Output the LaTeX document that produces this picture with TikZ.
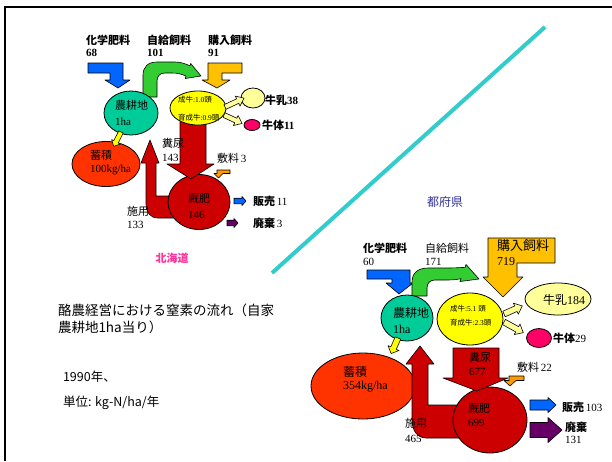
\documentclass[tikz,border=0pt]{standalone}
\usepackage{fontspec}
\setmainfont{Liberation Serif}
\newfontfamily\jp{Noto Sans CJK JP}
\usetikzlibrary{shapes.geometric}
\definecolor{cteal}{HTML}{00CC99}
\definecolor{cyel}{HTML}{FFFF00}
\definecolor{clyel}{HTML}{FFFF99}
\definecolor{cmag}{HTML}{FF0066}
\definecolor{corred}{HTML}{FF3300}
\definecolor{cdred}{HTML}{CC0000}
\definecolor{cblue}{HTML}{0066FF}
\definecolor{cgreen}{HTML}{33CC33}
\definecolor{corange}{HTML}{FFC000}
\definecolor{corsm}{HTML}{FF9900}
\definecolor{cpurp}{HTML}{660066}
\definecolor{cpink}{HTML}{FF3399}
\definecolor{cnavy}{HTML}{333399}
\definecolor{cline}{HTML}{33CCCC}
% block arrow: #1 start, #2 angle, #3 shaft half width, #4 head half width, #5 length, #6 head length, #7 style
\newcommand\blockarr[7]{%
  \begin{scope}[shift={(#1)},rotate=#2]
    \draw[#7] (0,-#3) -- ({#5-#6},-#3) -- ({#5-#6},-#4) -- (#5,0) -- ({#5-#6},#4) -- ({#5-#6},#3) -- (0,#3) -- cycle;
  \end{scope}}
\begin{document}
\begin{tikzpicture}[x=1pt,y=-1pt,
  every node/.style={inner sep=0pt,outer sep=0pt},
  t/.style={anchor=west,font=\fontsize{11}{13}\selectfont},
  tl/.style={anchor=west,font=\fontsize{12}{14}\selectfont},
  ts/.style={anchor=west,font=\fontsize{7.5}{9}\selectfont},
  tb/.style={anchor=west,font=\fontsize{13.5}{16}\selectfont\jp},
  bl/.style={draw=black,line width=0.6pt,line join=round},
  ell/.style={ellipse,draw=black,line width=0.8pt}]
\useasboundingbox (0,0) rectangle (612,461);
\fill[white] (0,0) rectangle (612,461);
\draw[line width=2pt] (5,461) -- (5,7) -- (612,7);
\draw[line width=4pt,cline] (272,273) -- (545,27);

% ===== Hokkaido =====
\node[ell,fill=corred,minimum width=68pt,minimum height=45pt] (sh) at (106,164) {};
\draw[bl,fill=cdred] (150,140) -- (159,163) -- (156,163) -- (156,196) -- (175,196) -- (175,218) -- (158,218) .. controls (150,218) and (146,212) .. (146,204) -- (146,163) -- (141,163) -- cycle;
\node[ell,fill=cdred,minimum width=62pt,minimum height=55pt] (kh) at (199,202) {};
\draw[bl,fill=cdred] (180,120) -- (206,120) -- (206,164) -- (214,164) -- (191,179) -- (167,164) -- (180,164) -- cycle;
\draw[bl,fill=cblue] (88,63) -- (123,63) -- (123,80) -- (130,80) -- (118,88) -- (105,80) -- (110,80) -- (110,73) -- (88,73) -- cycle;
\draw[bl,fill=corange] (242,63) -- (208,63) -- (208,80) -- (202,80) -- (217,88) -- (230,80) -- (222,80) -- (222,73) -- (242,73) -- cycle;
\draw[bl,fill=cgreen] (143,97) -- (143,75) .. controls (143,67) and (148,62) .. (157,62) -- (175,62) .. controls (181,62) and (186,64) .. (189.9,65.8) -- (190.7,63.5) -- (201,76) -- (185.3,78.5) -- (186.1,76.2) .. controls (182,74) and (177,73) .. (172,73) -- (165,73) .. controls (160,73) and (157,76) .. (157,81) -- (157,97) -- cycle;
\node[ell,fill=cteal,minimum width=54pt,minimum height=44pt] (nh) at (131,113) {};
\node[ell,fill=cyel,minimum width=56pt,minimum height=34pt] (ch) at (198,108) {};
\node[ell,fill=clyel,minimum width=24pt,minimum height=20pt] (mh) at (253,98) {};
\node[ell,fill=cmag,minimum width=16pt,minimum height=11pt] (bh) at (252,125) {};
\blockarr{225,107}{25}{2.5}{5.5}{21}{7}{bl,fill=clyel}
\blockarr{224,115}{-25}{2.5}{5.5}{20}{7}{bl,fill=clyel}
\blockarr{121,132}{243}{2.5}{5}{16}{5}{bl,fill=cyel}
\blockarr{234,201}{0}{2.8}{4.5}{12}{4}{bl,fill=cblue}
\blockarr{227,223}{0}{2.8}{4.5}{11}{4}{bl,fill=cpurp}
\draw[bl,fill=corsm] (217,170) -- (230,170) -- (230,173.5) -- (223,173.5) -- (218.5,178) -- (214,173.5) -- (217,173.5) -- cycle;

\node[t] (h1a) at (86,40) {\jp\bfseries 化学肥料};
\node[t] (h1b) at (86,53) {\bfseries 68};
\node[t] (h2a) at (147,40) {\jp\bfseries 自給飼料};
\node[t] (h2b) at (147,53) {\bfseries 101};
\node[t] (h3a) at (208,40) {\jp\bfseries 購入飼料};
\node[t] (h3b) at (208,53) {\bfseries 91};
\node[t] (hn1) at (115,105) {\jp 農耕地};
\node[t] (hn2) at (115,122) {1ha};
\node[ts] (hc1) at (178,100) {\jp 成牛\rmfamily:1.0\jp 頭};
\node[ts] (hc2) at (178,118) {\jp 育成牛\rmfamily:0.9\jp 頭};
\node[t] (hm) at (265,100) {{\jp\bfseries 牛乳}\bfseries 38};
\node[t] (hb) at (262,125) {{\jp\bfseries 牛体}\bfseries 11};
\node[t] (hs1) at (90,155) {\jp 蓄積};
\node[t] (hs2) at (90,170) {100kg/ha};
\node[t] (hk1) at (188,198) {\jp 厩肥};
\node[t] (hk2) at (188,215) {146};
\node[t] (hf1) at (162,143) {\jp 糞尿};
\node[t] (hf2) at (162,158) {143};
\node[t] (hsk) at (217,158) {{\jp 敷料}\,3};
\node[t] (hy1) at (127,211) {\jp 施用};
\node[t] (hy2) at (127,225) {133};
\node[t] (hh) at (253,201) {{\jp\bfseries 販売}\,11};
\node[t] (hd) at (253,223) {{\jp\bfseries 廃棄}\,3};
\node[t,anchor=center,text=cpink] (hok) at (172,258) {\jp\bfseries 北海道};

% ===== text block =====
\node[tb] (tx1) at (58,310) {酪農経営における窒素の流れ（自家};
\node[tb] (tx2) at (58,327) {農耕地1ha当り）};
\node[tb,font=\fontsize{12.5}{15}\selectfont\jp] (tx3) at (63,377) {1990年、};
\node[tb,font=\fontsize{12.5}{15}\selectfont\jp] (tx4) at (63,403) {単位: kg-N/ha/年};

% ===== Tofuken =====
\node[t,anchor=center,text=cnavy,font=\fontsize{12}{14}\selectfont] (tfk) at (445,202) {\jp 都府県};
\node[ell,fill=corred,minimum width=104pt,minimum height=66pt] (st) at (363,386) {};
\draw[bl,fill=cdred] (420,346) -- (434,364) -- (428,364) -- (428,405) -- (460,405) -- (460,438) -- (426,438) .. controls (417,438) and (412,430) .. (412,420) -- (412,364) -- (406,364) -- cycle;
\node[ell,fill=cdred,minimum width=74pt,minimum height=66pt] (kt) at (490,420) {};
\draw[bl,fill=cdred] (453,348) -- (499,348) -- (499,378) -- (508,378) -- (477,391) -- (443,378) -- (453,378) -- cycle;
\draw[bl,fill=cblue] (367,270) -- (410,270) -- (410,283) -- (413,283) -- (399,294) -- (386,283) -- (392,283) -- (392,279) -- (367,279) -- cycle;
\draw[bl,fill=corange] (488,238) -- (555,238) -- (555,263) -- (517,263) -- (517,277) -- (523,277) -- (503,297) -- (483,277) -- (488,277) -- cycle;
\draw[bl,fill=cgreen] (412,296) -- (412,282) .. controls (412,273) and (418,268) .. (428,268) -- (448,268) .. controls (455,268) and (461,267.5) .. (465,267.4) -- (466,264.5) -- (479,279) -- (460,281.5) -- (461,278.6) .. controls (456,280) and (450,280) .. (445,280) -- (435,280) .. controls (430,280) and (427,283) .. (427,288) -- (427,296) -- cycle;
\node[ell,fill=cteal,minimum width=52pt,minimum height=46pt] (nt) at (407,318) {};
\node[ell,fill=cyel,minimum width=66pt,minimum height=52pt] (ct) at (470,319) {};
\node[ell,fill=clyel,minimum width=66pt,minimum height=32pt] (mt) at (558,299) {};
\node[ell,fill=cmag,minimum width=25pt,minimum height=19pt] (bt) at (539,338) {};
\blockarr{504,314}{24}{3}{6}{20}{7}{bl,fill=clyel}
\blockarr{504,322}{-29}{3}{6}{22}{7}{bl,fill=clyel}
\blockarr{398,338}{246}{3}{6}{17}{6}{bl,fill=cyel}
\blockarr{530,405}{0}{5}{7.5}{26}{8}{bl,fill=cblue}
\blockarr{530,430}{0}{7.5}{12.5}{32}{14}{bl,fill=cpurp}
\draw[bl,fill=corsm] (509,376) -- (524,376) -- (524,380.5) -- (516,380.5) -- (510,386) -- (504,380.5) -- (509,380.5) -- cycle;

\node[t] (t1a) at (363,248) {\jp\bfseries 化学肥料};
\node[t] (t1b) at (363,262) {60};
\node[t] (t2a) at (425,248) {\jp 自給飼料};
\node[t] (t2b) at (425,262) {171};
\node[t,font=\fontsize{13}{15}\selectfont] (t3a) at (497,246) {\jp 購入飼料};
\node[tl] (t3b) at (497,262) {719};
\node[tl] (tn1) at (393,313) {\jp 農耕地};
\node[tl] (tn2) at (393,329) {1ha};
\node[ts] (tc1) at (450,309) {\jp 成牛\rmfamily:5.1 \jp 頭};
\node[ts] (tc2) at (450,323) {\jp 育成牛\rmfamily:2.3\jp 頭};
\node[tl] (tm) at (543,300) {{\jp 牛乳}184};
\node[t] (tb) at (553,338) {{\jp\bfseries 牛体}29};
\node[tl] (ts1) at (343,372) {\jp 蓄積};
\node[tl] (ts2) at (343,387) {354kg/ha};
\node[t] (tf1) at (469,357) {\jp 糞尿};
\node[t] (tf2) at (469,372) {677};
\node[t] (tk1) at (468,408) {\jp 厩肥};
\node[t] (tk2) at (468,423) {699};
\node[t] (tsk) at (517,367) {{\jp 敷料}\,22};
\node[t] (ty1) at (405,423) {\jp 施用};
\node[t] (ty2) at (405,439) {465};
\node[t] (th) at (562,407) {{\jp\bfseries 販売}\,103};
\node[t] (td1) at (565,427) {\jp\bfseries 廃棄};
\node[t] (td2) at (565,440) {131};
\end{tikzpicture}
\end{document}
